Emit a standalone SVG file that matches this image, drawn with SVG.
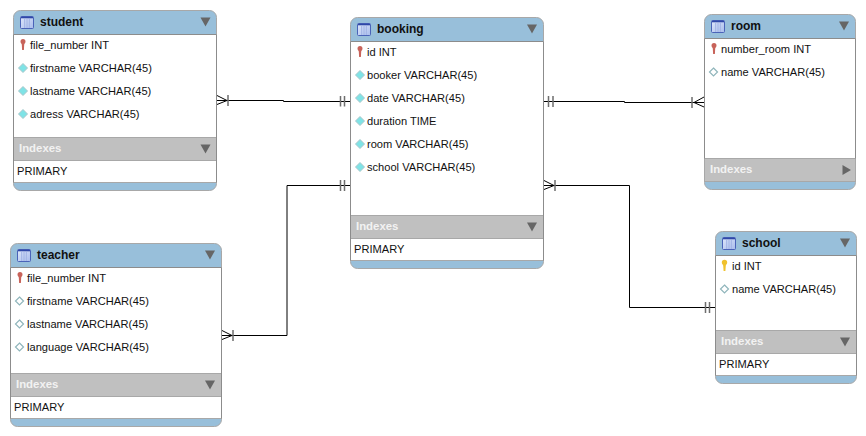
<svg xmlns="http://www.w3.org/2000/svg" width="866" height="436" viewBox="0 0 866 436">
<style>
text{font-family:"Liberation Sans",Arial,sans-serif;font-size:11.1px;fill:#111}
.t{font-size:12px;font-weight:bold;fill:#111}
.i{font-size:11.4px;font-weight:bold;fill:#f2f2f2}
.bg{fill:#98bfda}
.w{fill:#fff}
.g{fill:#c0c0c0}
.o{fill:none;stroke:#8c8c8c;stroke-width:1}
.s{fill:none;stroke:#a8a8a8;stroke-width:1}
.c{fill:none;stroke:#000;stroke-width:1}
.b{fill:none;stroke:#6e6e6e;stroke-width:1.500}
.tri{fill:#666}
</style>
<defs>
<linearGradient id="tg" x1="0" y1="0" x2="1" y2="1"><stop offset="0" stop-color="#dfe8fa"/><stop offset="1" stop-color="#a9bcec"/></linearGradient>
<g id="tbl"><rect x="0.500" y="0.500" width="13" height="12" rx="1" fill="url(#tg)" stroke="#4a63b8"/><path d="M1 1.500h12" stroke="#2f48a8" stroke-width="1.600"/><path d="M4.700 3v9M7 3v9M9.300 3v9" stroke="#9fb2e4" stroke-width="1"/></g>
<g id="key"><path d="M-2.500 -3.500a2.500 2.500 0 0 1 5 0c0 1.500-1 2-1.300 3l-.3 5.500h-1.800l-.3-5.500c-.3-1-1.300-1.500-1.300-3z" fill="#c8635a"/></g>
<g id="ykey"><path d="M-2.700 -3.500a2.700 2.700 0 0 1 5.400 0c0 1.500-1.100 2-1.400 3l-.4 5.500h-1.800l-.4-5.500c-.3-1-1.400-1.500-1.400-3z" fill="#f0c22e"/></g>
<path id="dia" d="M0 -4.500L4.500 0L0 4.500L-4.500 0z" fill="#7fe3e6" stroke="#a8c6ca" stroke-width="1"/>
<path id="odia" d="M0 -4L4 0L0 4L-4 0z" fill="#fff" stroke="#8fb5bb" stroke-width="1.200"/>
<path id="dn" class="tri" d="M-5 -4.500h10l-5 9z"/>
<path id="rt" class="tri" d="M-4 -5v10l8.500-5z"/>
</defs>

<g id="connectors">
<path class="c" d="M217 100.500H283.500V101.500H350"/>
<path class="c" d="M222 335.500H287V185.500H350"/>
<path class="c" d="M544 101.500H624.500V102.500H704"/>
<path class="c" d="M544 185.500H629.500V307.500H715"/>
<path class="c" d="M217 95.500L227 100.500L217 104.500"/>
<path class="b" d="M228 95V106M340.500 96V106.500M344.500 96V106.500"/>
<path class="c" d="M222 330.500L232 335.500L222 339.500"/>
<path class="b" d="M233 330V341M340.500 180V191M344.500 180V191"/>
<path class="c" d="M704 97L694 102.500L704 107"/>
<path class="b" d="M692 97V108M548.500 96V107M553 96V107"/>
<path class="c" d="M544 180.500L554 185.500L544 189.500"/>
<path class="b" d="M555 180V191M705.500 302V313M709.500 302V313"/>
</g>

<g id="student" transform="translate(13.500 10.500)">
<rect class="bg" width="203" height="180" rx="7"/>
<rect class="w" y="24" width="203" height="103"/>
<rect class="g" y="127" width="203" height="23"/>
<rect class="w" y="150" width="203" height="22"/>
<path class="s" d="M0 127H203M0 150H203M0 172H203"/>
<path class="o" d="M0 24H203"/>
<rect class="s" width="203" height="180" rx="7"/>
<path class="o" d="M0 24V172M203 24V172"/>
<use href="#tbl" x="6.500" y="5.500"/><text class="t" x="26.500" y="15.500">student</text><use href="#dn" x="192" y="11.500"/>
<use href="#key" x="9.500" y="34.500"/><text x="16.500" y="38.400">file_number INT</text>
<use href="#dia" x="9.500" y="57.500"/><text x="16.500" y="61.400">firstname VARCHAR(45)</text>
<use href="#dia" x="9.500" y="80.500"/><text x="16.500" y="84.400">lastname VARCHAR(45)</text>
<use href="#dia" x="9.500" y="103.500"/><text x="16.500" y="107.400">adress VARCHAR(45)</text>
<text class="i" x="5.500" y="141.500">Indexes</text><use href="#dn" x="192" y="138.500"/>
<text x="3.500" y="164.500">PRIMARY</text>
</g>

<g id="teacher" transform="translate(10.500 243.500)">
<rect class="bg" width="211" height="183" rx="7"/>
<rect class="w" y="24" width="211" height="106"/>
<rect class="g" y="130" width="211" height="23"/>
<rect class="w" y="153" width="211" height="22"/>
<path class="s" d="M0 130H211M0 153H211M0 175H211"/>
<path class="o" d="M0 24H211"/>
<rect class="s" width="211" height="183" rx="7"/>
<path class="o" d="M0 24V175M211 24V175"/>
<use href="#tbl" x="6.500" y="5.500"/><text class="t" x="26.500" y="15.500">teacher</text><use href="#dn" x="199.500" y="11.500"/>
<use href="#key" x="9.500" y="34.500"/><text x="16.500" y="38.400">file_number INT</text>
<use href="#odia" x="9" y="57.500"/><text x="16.500" y="61.400">firstname VARCHAR(45)</text>
<use href="#odia" x="9" y="80.500"/><text x="16.500" y="84.400">lastname VARCHAR(45)</text>
<use href="#odia" x="9" y="103.500"/><text x="16.500" y="107.400">language VARCHAR(45)</text>
<text class="i" x="5.500" y="144.500">Indexes</text><use href="#dn" x="199.500" y="141.500"/>
<text x="3.500" y="167.500">PRIMARY</text>
</g>

<g id="booking" transform="translate(350.500 17.500)">
<rect class="bg" width="193" height="251" rx="7"/>
<rect class="w" y="24" width="193" height="174"/>
<rect class="g" y="198" width="193" height="23"/>
<rect class="w" y="221" width="193" height="22"/>
<path class="s" d="M0 198H193M0 221H193M0 243H193"/>
<path class="o" d="M0 24H193"/>
<rect class="s" width="193" height="251" rx="7"/>
<path class="o" d="M0 24V243M193 24V243"/>
<use href="#tbl" x="6.500" y="5.500"/><text class="t" x="26.500" y="15.500">booking</text><use href="#dn" x="181.500" y="11.500"/>
<use href="#key" x="9.500" y="34.500"/><text x="16.500" y="38.400">id INT</text>
<use href="#dia" x="9.500" y="57.500"/><text x="16.500" y="61.400">booker VARCHAR(45)</text>
<use href="#dia" x="9.500" y="80.500"/><text x="16.500" y="84.400">date VARCHAR(45)</text>
<use href="#dia" x="9.500" y="103.500"/><text x="16.500" y="107.400">duration TIME</text>
<use href="#dia" x="9.500" y="126.500"/><text x="16.500" y="130.400">room VARCHAR(45)</text>
<use href="#dia" x="9.500" y="149.500"/><text x="16.500" y="153.400">school VARCHAR(45)</text>
<text class="i" x="5.500" y="212.500">Indexes</text><use href="#dn" x="181.500" y="209.500"/>
<text x="3.500" y="235.500">PRIMARY</text>
</g>

<g id="room" transform="translate(704.500 14.500)">
<rect class="bg" width="151" height="175" rx="7"/>
<rect class="w" y="24" width="151" height="120"/>
<rect class="g" y="144" width="151" height="23"/>
<path class="s" d="M0 144H151M0 167H151"/>
<path class="o" d="M0 24H151"/>
<rect class="s" width="151" height="175" rx="7"/>
<path class="o" d="M0 24V144M151 24V144"/>
<use href="#tbl" x="6.500" y="5.500"/><text class="t" x="26.500" y="15.500">room</text><use href="#dn" x="139.500" y="11.500"/>
<use href="#key" x="9.500" y="34.500"/><text x="16.500" y="38.400">number_room INT</text>
<use href="#odia" x="9" y="57.500"/><text x="16.500" y="61.400">name VARCHAR(45)</text>
<text class="i" x="5.500" y="158.500">Indexes</text><use href="#rt" x="142" y="155.500"/>
</g>

<g id="school" transform="translate(715.500 231.500)">
<rect class="bg" width="141" height="152" rx="7"/>
<rect class="w" y="24" width="141" height="75"/>
<rect class="g" y="99" width="141" height="23"/>
<rect class="w" y="122" width="141" height="22"/>
<path class="s" d="M0 99H141M0 122H141M0 144H141"/>
<path class="o" d="M0 24H141"/>
<rect class="s" width="141" height="152" rx="7"/>
<path class="o" d="M0 24V144M141 24V144"/>
<use href="#tbl" x="6.500" y="5.500"/><text class="t" x="26.500" y="15.500">school</text><use href="#dn" x="129.500" y="11.500"/>
<use href="#ykey" x="9" y="34.500"/><text x="16.500" y="38.400">id INT</text>
<use href="#odia" x="9" y="57.500"/><text x="16.500" y="61.400">name VARCHAR(45)</text>
<text class="i" x="5.500" y="113.500">Indexes</text><use href="#dn" x="129.500" y="110.500"/>
<text x="3.500" y="136.500">PRIMARY</text>
</g>
</svg>
